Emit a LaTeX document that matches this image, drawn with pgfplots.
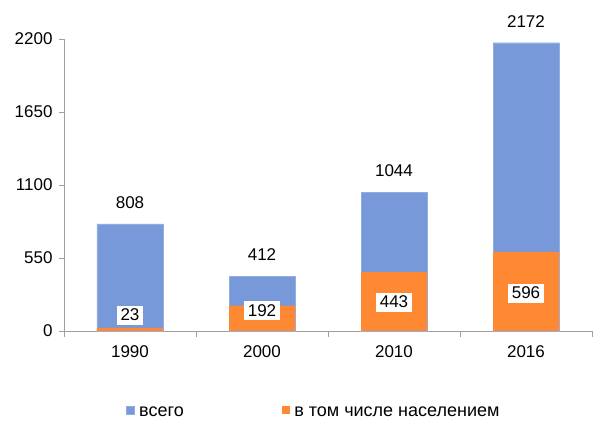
\documentclass[border=0pt]{standalone}
\usepackage{pgfplots}
\pgfplotsset{compat=1.18}
\usepackage{fontspec}
\setmainfont{Liberation Sans}
\definecolor{cblue}{RGB}{120,153,217}
\definecolor{corange}{RGB}{255,136,51}
\definecolor{caxis}{RGB}{160,160,160}
\begin{document}
\begin{tikzpicture}
\begin{axis}[
  scale only axis,
  width=528pt, height=292pt,
  xmin=-0.5, xmax=3.5,
  ymin=0, ymax=2200,
  axis lines*=left,
  axis line style={caxis, line width=0.8pt},
  xtick={0,1,2,3},
  xticklabels={1990,2000,2010,2016},
  minor xtick={-0.5,0.5,1.5,2.5,3.5},
  major x tick style={draw=none},
  minor x tick style={caxis, line width=0.8pt},
  ytick={0,550,1100,1650,2200},
  y tick style={caxis, line width=0.8pt},
  tick align=outside,
  major tick length=5pt, minor tick length=6pt,
  /pgf/number format/1000 sep={},
  /pgf/number format/assume math mode=true,
  tick label style={font=\fontsize{17}{20}\selectfont, black},
  xticklabel style={yshift=-6pt},
  yticklabel style={xshift=-3pt},
  clip=false,
  legend style={at={(0.112,-0.278)}, anchor=west, draw=none, fill=none,
    font=\fontsize{18}{21}\selectfont, legend columns=2,
    /tikz/every even column/.append style={column sep=96.5pt},
    nodes={inner xsep=1.5pt}},
  legend image code/.code={\fill[#1] (0pt,-2pt) rectangle (8pt,6pt); \path (11pt,0pt);},
]
\addplot[ybar, bar width=0.5, bar shift=0pt, fill=cblue, draw=cblue!80!white,
  nodes near coords, nodes near coords style={font=\fontsize{17}{20}\selectfont, anchor=south, yshift=12pt}]
  coordinates {(0,808) (1,412) (2,1044) (3,2172)};
\addlegendentry{всего}
\addplot[ybar, bar width=0.5, bar shift=0pt, fill=corange, draw=none]
  coordinates {(0,23) (1,192) (2,443) (3,596)};
\addlegendentry{в том числе населением}
\addplot[draw=none, mark=none, forget plot, nodes near coords, point meta=explicit symbolic,
  nodes near coords style={font=\fontsize{17}{20}\selectfont, anchor=center, fill=white, inner xsep=4pt, inner ysep=3.5pt}]
  coordinates {(0,120)[23] (1,154)[192] (2,218)[443] (3,286)[596]};
\end{axis}
\path[use as bounding box] ([xshift=-64pt,yshift=-96pt]current axis.south west) rectangle ([xshift=2pt,yshift=39pt]current axis.north east);
\end{tikzpicture}
\end{document}
